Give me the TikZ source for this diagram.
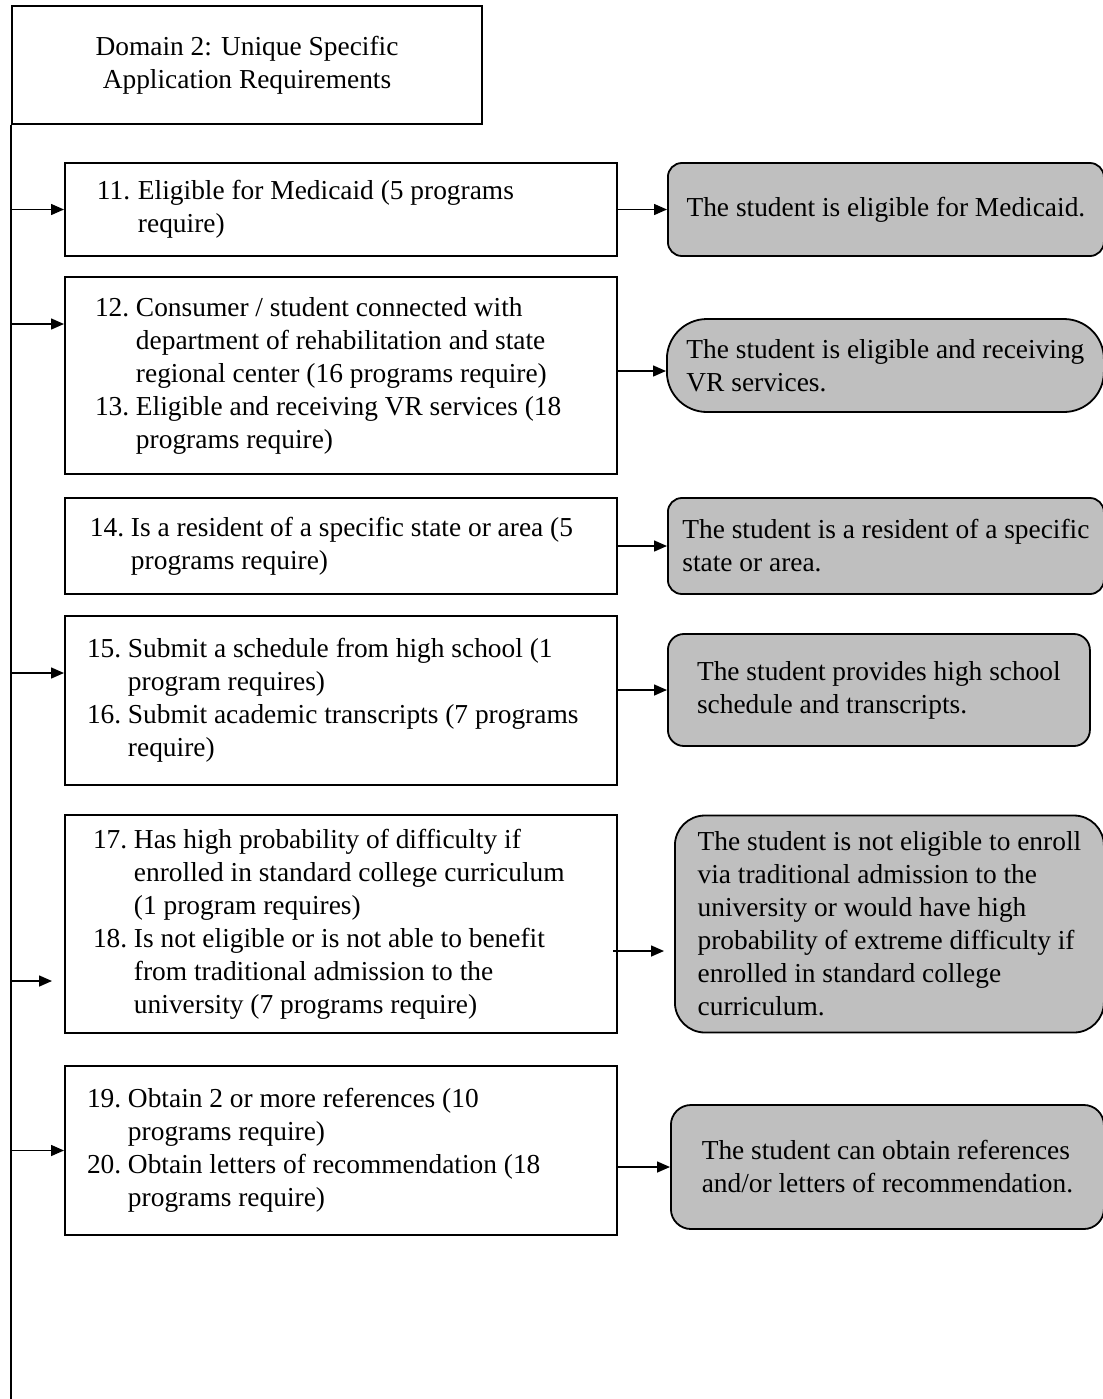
\documentclass[tikz,border=0pt]{standalone}
\usepackage{fontspec}
\setmainfont{Liberation Serif}
\usepackage{tikz}
\usetikzlibrary{positioning,arrows.meta}
\definecolor{boxgray}{RGB}{191,191,191}
\newcommand{\itemno}[1]{\makebox[20.5pt][l]{#1}}
\newcommand{\contd}{\hspace*{20.5pt}}

\begin{document}
\begin{tikzpicture}[x=0.5pt, y=-0.5pt,
  > = {Triangle[length=6.5pt, width=5.5pt]},
  font = \fontsize{13.7}{16.5}\selectfont,
  topbox/.style = {draw, line width=1pt, align=center, anchor=north west, minimum width=235pt, minimum height=59pt},
  reqbox/.style = {draw, line width=1pt, align=flush left, minimum width=276pt, inner ysep=2pt},
  outbox/.style = {draw, fill=boxgray, line width=0.9pt, rounded corners=#1, align=left, inner sep=2pt},
  outbox/.default = 7pt,
  link/.style = {->, line width=0.75pt}]
\useasboundingbox (0,0) rectangle (1103,1399);

\node (top) [topbox] at (11,5) {Domain 2: Unique Specific\\Application Requirements};
\coordinate (spinebot) at (11,1399);

\node (b11) [reqbox, anchor=north west, minimum height=46.5pt, inner xsep=16pt, text width=244pt] at (64,162)
  {\itemno{11.}Eligible for Medicaid (5 programs\\\contd require)};
\node (b12) [reqbox, below=9.5pt of b11.south west, anchor=north west, minimum height=98.5pt, inner xsep=15pt, text width=246pt]
  {\itemno{12.}Consumer / student connected with\\\contd department of rehabilitation and state\\\contd regional center (16 programs require)\\
   \itemno{13.}Eligible and receiving VR services (18\\\contd programs require)};
\node (b14) [reqbox, below=11pt of b12.south west, anchor=north west, minimum height=48pt, inner xsep=12.5pt, text width=251pt]
  {\itemno{14.}Is a resident of a specific state or area (5\\\contd programs require)};
\node (b15) [reqbox, below=10pt of b14.south west, anchor=north west, minimum height=84.5pt, inner xsep=11pt, text width=254pt]
  {\itemno{15.}Submit a schedule from high school (1\\\contd program requires)\\
   \itemno{16.}Submit academic transcripts (7 programs\\\contd require)};
\node (b17) [reqbox, below=14pt of b15.south west, anchor=north west, minimum height=109pt, inner xsep=14pt, text width=248pt]
  {\itemno{17.}Has high probability of difficulty if\\\contd enrolled in standard college curriculum\\\contd (1 program requires)\\
   \itemno{18.}Is not eligible or is not able to benefit\\\contd from traditional admission to the\\\contd university (7 programs require)};
\node (b19) [reqbox, below=15.5pt of b17.south west, anchor=north west, minimum height=84.5pt, inner xsep=11pt, text width=254pt]
  {\itemno{19.}Obtain 2 or more references (10\\\contd programs require)\\
   \itemno{20.}Obtain letters of recommendation (18\\\contd programs require)};

\node (r11) [outbox, right=24.5pt of b11, minimum width=218pt, minimum height=46.5pt]
  {The student is eligible for Medicaid.};
\node (r12) [outbox=20pt, right=24pt of b12, yshift=5pt, minimum width=218.5pt, minimum height=46.5pt]
  {The student is eligible and receiving\\VR services.};
\node (r14) [outbox, right=24.5pt of b14, minimum width=218pt, minimum height=48pt]
  {The student is a resident of a specific\\state or area.};
\node (r15) [outbox=8pt, right=24.5pt of b15, yshift=5.25pt, minimum width=211pt, minimum height=56pt]
  {The student provides high school\\schedule and transcripts.};
\node (r17) [outbox=15pt, right=28pt of b17, minimum width=214.5pt, minimum height=108.5pt]
  {The student is not eligible to enroll\\via traditional admission to the\\university or would have high\\probability of extreme difficulty if\\enrolled in standard college\\curriculum.};
\node (r19) [outbox=10pt, right=26pt of b19, yshift=-8.25pt, minimum width=216.5pt, minimum height=62pt]
  {The student can obtain references\\and/or letters of recommendation.};

\coordinate (in12) at ([yshift=25.75pt]b12.west);
\coordinate (in15) at ([yshift=13.75pt]b15.west);
\coordinate (in17) at ([yshift=-28.5pt]b17.west);
\coordinate (out12) at ([yshift=2.25pt]b12.east);
\coordinate (out17) at ([xshift=-2.5pt, yshift=-13.5pt]b17.east);

\draw[line width=1pt] (top.south west) -- (spinebot);
\draw[link] (b11.west -| spinebot) -- (b11.west);
\draw[link] (in12 -| spinebot) -- (in12);
\draw[link] (in15 -| spinebot) -- (in15);
\draw[link, shorten >=6pt] (in17 -| spinebot) -- (in17);
\draw[link] (b19.west -| spinebot) -- (b19.west);

\draw[link] (b11.east) -- (r11.west);
\draw[link] (out12) -- (out12 -| r12.west);
\draw[link] (b14.east) -- (r14.west);
\draw[link] (r15.west -| b15.east) -- (r15.west);
\draw[link, shorten >=5pt] (out17) -- (out17 -| r17.west);
\draw[link] (r19.west -| b19.east) -- (r19.west);
\end{tikzpicture}
\end{document}
